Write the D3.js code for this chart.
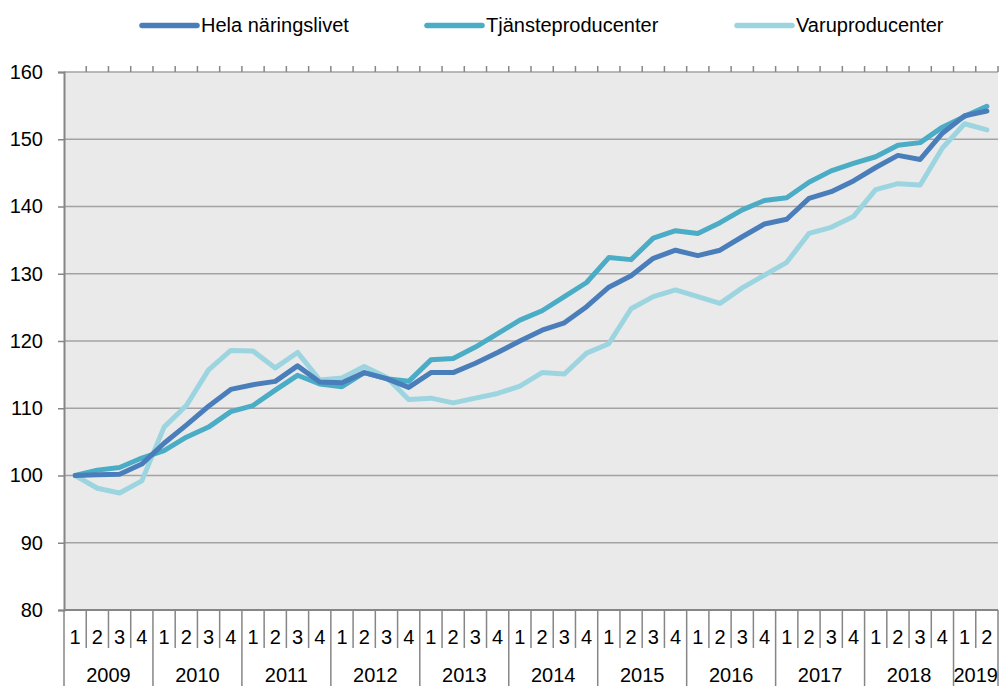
<!DOCTYPE html>
<html>
<head>
<meta charset="utf-8">
<script src="https://cdn.jsdelivr.net/npm/d3@7"></script>
<style>
  body { margin: 0; background: #fff; }
  svg { display: block; font-family: "Liberation Sans", Arial, sans-serif; }
</style>
</head>
<body>
<svg id="chart" width="1000" height="686"></svg>
<script>
const years = [2009, 2010, 2011, 2012, 2013, 2014, 2015, 2016, 2017, 2018, 2019];
const quarterCount = [4, 4, 4, 4, 4, 4, 4, 4, 4, 4, 2];
const yTicks = [80, 90, 100, 110, 120, 130, 140, 150, 160];

const hela = [100.0, 100.1, 100.2, 101.7, 104.8, 107.5, 110.3, 112.8, 113.5, 114.0,
  116.3, 113.9, 113.8, 115.3, 114.4, 113.1, 115.3, 115.3, 116.7, 118.3,
  120.0, 121.6, 122.7, 125.1, 128.0, 129.7, 132.3, 133.5, 132.7, 133.5,
  135.5, 137.4, 138.1, 141.2, 142.2, 143.8, 145.8, 147.6, 147.0, 150.9,
  153.5, 154.2];
const tjanste = [100.0, 100.8, 101.2, 102.6, 103.7, 105.7, 107.2, 109.5, 110.4, 112.7,
  114.9, 113.6, 113.2, 115.3, 114.4, 114.0, 117.2, 117.4, 119.1, 121.1,
  123.1, 124.5, 126.6, 128.7, 132.4, 132.1, 135.3, 136.4, 136.0, 137.6,
  139.5, 140.9, 141.3, 143.6, 145.3, 146.4, 147.4, 149.1, 149.5, 151.8,
  153.4, 154.9];
const varu = [100.0, 98.1, 97.4, 99.2, 107.2, 110.4, 115.7, 118.6, 118.5, 116.0,
  118.3, 114.2, 114.5, 116.2, 114.6, 111.3, 111.5, 110.8, 111.5, 112.2,
  113.3, 115.3, 115.1, 118.2, 119.6, 124.8, 126.6, 127.6, 126.6, 125.6,
  127.9, 129.8, 131.7, 136.0, 136.9, 138.5, 142.5, 143.4, 143.2, 148.7,
  152.3, 151.4];

const seriesNames = ["Hela näringslivet", "Tjänsteproducenter", "Varuproducenter"];
const seriesColors = ["#4a7ebb", "#4bacc6", "#9cd5e0"];

function drawChart() {
  const svg = d3.select("#chart");
  const margin = {top: 72, right: 2, bottom: 76, left: 64};
  const W = 1000, H = 686;
  const width = W - margin.left - margin.right;
  const height = H - margin.top - margin.bottom;
  const fontSize = 20;

  // quarter keys, e.g. "2009-1"
  const quarters = [];
  years.forEach((yr, i) => {
    for (let q = 1; q <= quarterCount[i]; q++) quarters.push({year: yr, q: q, key: yr + "-" + q});
  });

  const x = d3.scaleBand()
    .domain(quarters.map(d => d.key))
    .range([0, width]);

  const y = d3.scaleLinear()
    .domain([80, 160])
    .range([height, 0]);

  const g = svg.append("g")
    .attr("transform", `translate(${margin.left},${margin.top})`);

  g.append("rect")
    .attr("width", width)
    .attr("height", height)
    .attr("fill", "#eaeaea");

  // gridlines
  g.selectAll(".grid")
    .data(yTicks.filter(v => v > 80))
    .join("line")
    .attr("x1", 0)
    .attr("x2", width)
    .attr("y1", d => y(d))
    .attr("y2", d => y(d))
    .attr("stroke", "#a3a3a3")
    .attr("stroke-width", 1.5);

  // y axis
  const yAxis = g.append("g")
    .call(d3.axisLeft(y).tickValues(yTicks).tickSize(6).tickPadding(15).tickFormat(d3.format("d")));
  yAxis.select(".domain").attr("stroke", "#868686").attr("stroke-width", 2);
  yAxis.selectAll(".tick line").attr("stroke", "#868686").attr("stroke-width", 1.5);
  yAxis.selectAll(".tick text")
    .attr("font-size", fontSize)
    .attr("fill", "#000")
    .attr("font-family", "Liberation Sans, Arial, sans-serif");

  // top ticks at quarter boundaries
  const bounds = quarters.map(d => x(d.key)).concat([width]);
  g.selectAll(".topTick")
    .data(bounds.slice(1))
    .join("line")
    .attr("x1", d => d)
    .attr("x2", d => d)
    .attr("y1", 0)
    .attr("y2", -6)
    .attr("stroke", "#868686")
    .attr("stroke-width", 1.5);

  // bottom axis line
  g.append("line")
    .attr("x1", 0).attr("x2", width)
    .attr("y1", height).attr("y2", height)
    .attr("stroke", "#868686").attr("stroke-width", 2);

  // quarter / year separators
  const yearStarts = new Set(quarters.filter(d => d.q === 1).map(d => x(d.key)));
  g.selectAll(".sep")
    .data(bounds)
    .join("line")
    .attr("x1", d => d)
    .attr("x2", d => d)
    .attr("y1", height)
    .attr("y2", d => (yearStarts.has(d) || d === width) ? H - margin.top : height + 38)
    .attr("stroke", "#868686")
    .attr("stroke-width", 1.5);

  g.selectAll(".qLabel")
    .data(quarters)
    .join("text")
    .attr("x", d => x(d.key) + x.bandwidth() / 2)
    .attr("y", height + 34)
    .attr("text-anchor", "middle")
    .attr("font-size", fontSize)
    .text(d => d.q);

  g.selectAll(".yLabel")
    .data(years)
    .join("text")
    .attr("x", (d, i) => {
      const first = x(d + "-1");
      return first + x.bandwidth() * quarterCount[i] / 2;
    })
    .attr("y", height + 72)
    .attr("text-anchor", "middle")
    .attr("font-size", fontSize)
    .text(d => d);

  // lines
  const line = d3.line()
    .x((d, i) => x(quarters[i].key) + x.bandwidth() / 2)
    .y(d => y(d))
    .curve(d3.curveLinear);

  [varu, tjanste, hela].forEach((vals, k) => {
    const idx = 2 - k;
    g.append("path")
      .datum(vals)
      .attr("fill", "none")
      .attr("stroke", seriesColors[idx])
      .attr("stroke-width", 5)
      .attr("stroke-linejoin", "round")
      .attr("stroke-linecap", "round")
      .attr("d", line);
  });

  // legend
  const legendX = [142, 427, 737];
  const legend = svg.append("g");
  seriesNames.forEach((name, i) => {
    legend.append("line")
      .attr("x1", legendX[i]).attr("x2", legendX[i] + 55)
      .attr("y1", 25.5).attr("y2", 25.5)
      .attr("stroke", seriesColors[i])
      .attr("stroke-width", 5.5)
      .attr("stroke-linecap", "round");
    legend.append("text")
      .attr("x", legendX[i] + 59)
      .attr("y", 32)
      .attr("font-size", fontSize)
      .text(name);
  });
}

document.addEventListener("DOMContentLoaded", drawChart);
</script>
</body>
</html>
